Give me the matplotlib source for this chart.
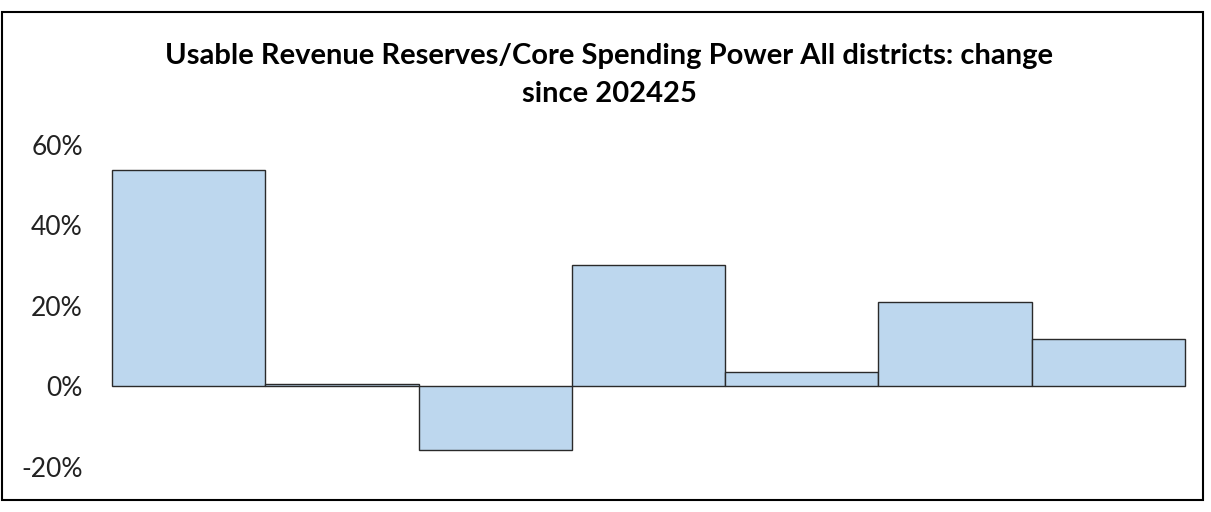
import matplotlib.pyplot as plt
from matplotlib.patches import Rectangle
from matplotlib.ticker import FuncFormatter

# values (percent change)
districts = ['A', 'B', 'C', 'D', 'E', 'F', 'G']
change = [53.9, 0.6, -15.9, 30.1, 3.7, 20.9, 11.7]
yticks = [-20, 0, 20, 40, 60]

plt.rcParams['font.family'] = ['Lato', 'DejaVu Sans']

fig = plt.figure(figsize=(12.11, 5.12), dpi=100)
ax = fig.add_axes([0.0925, 0.0879, 0.886, 0.6289])

bars = ax.bar(range(len(districts)), change, width=1.0, color='#bdd7ee',
              edgecolor='#2a2a2a', linewidth=1.0)
for b in bars:
    b.set_clip_on(False)
ax.set_xlim(-0.5, len(districts) - 0.5)
ax.set_ylim(-20, 60)
ax.set_yticks(yticks)
ax.yaxis.set_major_formatter(FuncFormatter(lambda v, p: f'{v:.0f}%'))
ax.tick_params(axis='y', length=0, pad=21, labelsize=19, labelcolor='#222222')
ax.set_xticks([])
for s in ax.spines.values():
    s.set_visible(False)

fig.text(0.503, 0.854, 'Usable Revenue Reserves/Core Spending Power All districts: change\nsince 202425',
         ha='center', va='center', fontsize=21, fontweight='bold', linespacing=1.55)

# outer frame around the chart
fig.patches.append(Rectangle((2 / 1211, 1 - 500 / 512), 1201 / 1211, 488 / 512,
                             transform=fig.transFigure, fill=False,
                             edgecolor='black', linewidth=1.5))

fig.savefig('out.png', dpi=100)
